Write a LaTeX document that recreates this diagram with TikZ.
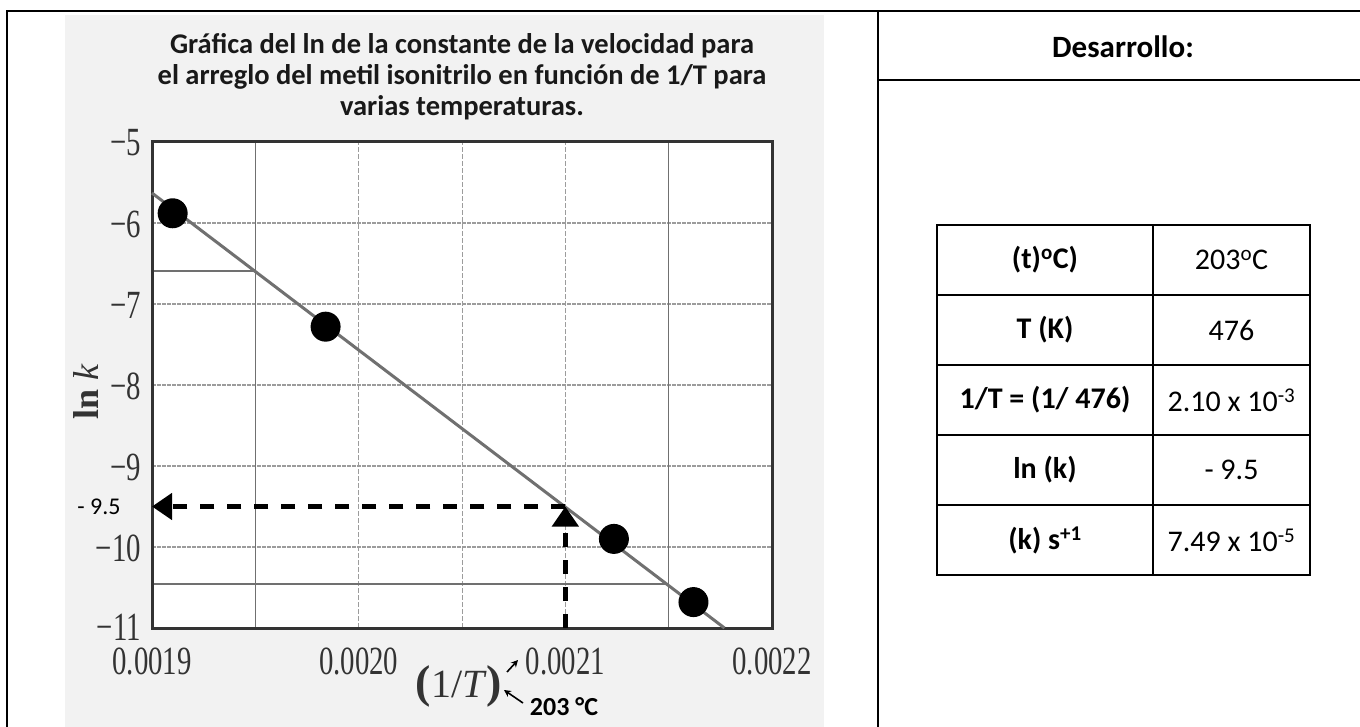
\documentclass[tikz,border=0pt]{standalone}
\usepackage{fontspec}
\setmainfont{Carlito}
\newfontfamily\scanserif{Liberation Serif}
\usepackage{graphicx}
\usepackage{xcolor}
\usepackage{tikz}
\usetikzlibrary{arrows.meta}

\definecolor{scanbg}{HTML}{F2F2F2}
\definecolor{scanink}{HTML}{333333}
\definecolor{gridgray}{HTML}{9C9C9C}
\definecolor{linegray}{HTML}{707070}

\newcommand{\squeezed}[1]{\scalebox{0.72}[1]{#1}}

\begin{document}
\begin{tikzpicture}[x=1pt, y=-1pt,
    panelline/.style={line width=2.5pt},
    ticklabel/.style={font=\scanserif\fontsize{40}{40}\selectfont, text=scanink, inner sep=0pt},
    gridh/.style={gridgray, line width=2.6pt, dash pattern=on 4pt off 1pt},
    gridv/.style={gridgray, line width=1pt, dash pattern=on 5pt off 2pt},
    gridvs/.style={linegray, line width=1.3pt},
    extraline/.style={linegray, line width=2.2pt},
    axisframe/.style={scanink, line width=3pt},
    fitline/.style={linegray, line width=3pt},
    datadot/.style={circle, fill=black, minimum size=30pt, inner sep=0pt},
    readline/.style={line width=4.5pt, dash pattern=on 14pt off 13pt, -{Triangle[length=20pt, width=26pt]}},
    smallarrow/.style={line width=1.6pt, -{Stealth[length=7pt, width=7pt]}},
    cellbox/.style={draw, line width=2.5pt, minimum height=70pt, inner sep=0pt, font=\fontsize{30}{30}\selectfont},
    keycell/.style={cellbox, minimum width=216pt, font=\bfseries\fontsize{30}{30}\selectfont},
    valcell/.style={cellbox, minimum width=157pt}]

  \useasboundingbox (0,0) rectangle (1360,727);

  \fill[scanbg] (65,15) rectangle (824,727);
  \fill[white] (152,143) rectangle (772,628);

  \node[font=\bfseries\fontsize{28.5}{31}\selectfont, align=center, text=black!90] (title) at (462,77)
    {Gráfica del ln de la constante de la velocidad para\\el arreglo del metil isonitrilo en función de 1/T para\\varias temperaturas.};

  \begin{scope}[shift={(152,628)}, x=206.67pt, y=81pt, shift={(-19,11)}]
    \draw[gridh] (19,-6)  -- (22,-6);
    \draw[gridh] (19,-7)  -- (22,-7);
    \draw[gridh] (19,-8)  -- (22,-8);
    \draw[gridh] (19,-9)  -- (22,-9);
    \draw[gridh] (19,-10) -- (22,-10);

    \draw[gridvs] (19.5,-11) -- (19.5,-5);
    \draw[gridv]  (20,-11)   -- (20,-5);
    \draw[gridv]  (20.5,-11) -- (20.5,-5);
    \draw[gridv]  (21,-11)   -- (21,-5);
    \draw[gridvs] (21.5,-11) -- (21.5,-5);

    \draw[extraline] (19,-6.59)  -- (19.5,-6.59);
    \draw[extraline] (19,-10.46) -- (21.5,-10.46);

    \draw[axisframe] (19,-5) rectangle (22,-11);

    \coordinate (fitstart) at (19,-5.63);
    \coordinate (fitend)   at (21.77,-11);
    \draw[fitline] (fitstart) -- (fitend);

    \coordinate (hit)   at (21,-9.5);
    \coordinate (yaxis) at (19,-9.5);
    \coordinate (xaxis) at (21,-11);
    \draw[readline] (hit) -- (yaxis);
    \draw[readline] (xaxis) -- (hit);

    \node[datadot] (p1) at (19.10,-5.88)  {};
    \node[datadot] (p2) at (19.84,-7.28)  {};
    \node[datadot] (p3) at (21.235,-9.90) {};
    \node[datadot] (p4) at (21.62,-10.68) {};
  \end{scope}

  \node[ticklabel, anchor=east] (y5)  at (141,143) {\squeezed{−5}};
  \node[ticklabel, anchor=east] (y6)  at (141,224) {\squeezed{−6}};
  \node[ticklabel, anchor=east] (y7)  at (141,305) {\squeezed{−7}};
  \node[ticklabel, anchor=east] (y8)  at (141,386) {\squeezed{−8}};
  \node[ticklabel, anchor=east] (y9)  at (141,467) {\squeezed{−9}};
  \node[ticklabel, anchor=east] (y10) at (141,548) {\squeezed{−10}};
  \node[ticklabel, anchor=east] (y11) at (141,627) {\squeezed{−11}};

  \node[ticklabel] (x19) at (152,661)   {\squeezed{0.0019}};
  \node[ticklabel] (x20) at (358.7,661) {\squeezed{0.0020}};
  \node[ticklabel] (x21) at (565.3,661) {\squeezed{0.0021}};
  \node[ticklabel] (x22) at (772,661)   {\squeezed{0.0022}};

  \node[font=\scanserif\fontsize{36}{36}\selectfont, text=scanink, rotate=90] (ylab) at (86,392) {\textbf{ln} \textit{k}};
  \node[font=\fontsize{24}{24}\selectfont] (lvl) at (99,507) {- 9.5};

  \node[font=\scanserif\fontsize{40}{40}\selectfont, text=scanink] (xlab) at (459,686)
    {{\fontsize{46}{46}\selectfont\bfseries(}1/\textit{T}{\fontsize{46}{46}\selectfont\bfseries)}};
  \node[font=\bfseries\fontsize{26}{26}\selectfont] (tc) at (564,707) {203 °C};

  \coordinate (a1s) at (507,672);
  \coordinate (a1e) at (518,660);
  \coordinate (a2s) at (523,703);
  \coordinate (a2e) at (504,690);
  \draw[smallarrow] (a1s) -- (a1e);
  \draw[smallarrow] (a2s) -- (a2e);

  \draw[panelline] (7,727) -- (7,11) -- (1360,11);
  \draw[panelline] (878,11) -- (878,727);
  \draw[panelline] (878,80) -- (1360,80);

  \node[font=\bfseries\fontsize{31}{31}\selectfont] (head) at (1123,47) {Desarrollo:};

  \node[keycell] (tk) at (1045,260)   {(t)\textsuperscript{o}C)};
  \node[valcell] (tv) at (1231.5,260) {203\textsuperscript{o}C};
  \node[keycell] (Tk) at (1045,330)   {T (K)};
  \node[valcell] (Tv) at (1231.5,330) {476};
  \node[keycell] (ik) at (1045,400)   {1/T = (1/ 476)};
  \node[valcell] (iv) at (1231.5,400) {2.10 x 10\textsuperscript{-3}};
  \node[keycell] (lk) at (1045,470)   {ln (k)};
  \node[valcell] (lv) at (1231.5,470) {- 9.5};
  \node[keycell] (kk) at (1045,540)   {(k) s\textsuperscript{+1}};
  \node[valcell] (kv) at (1231.5,540) {7.49 x 10\textsuperscript{-5}};
\end{tikzpicture}
\end{document}
